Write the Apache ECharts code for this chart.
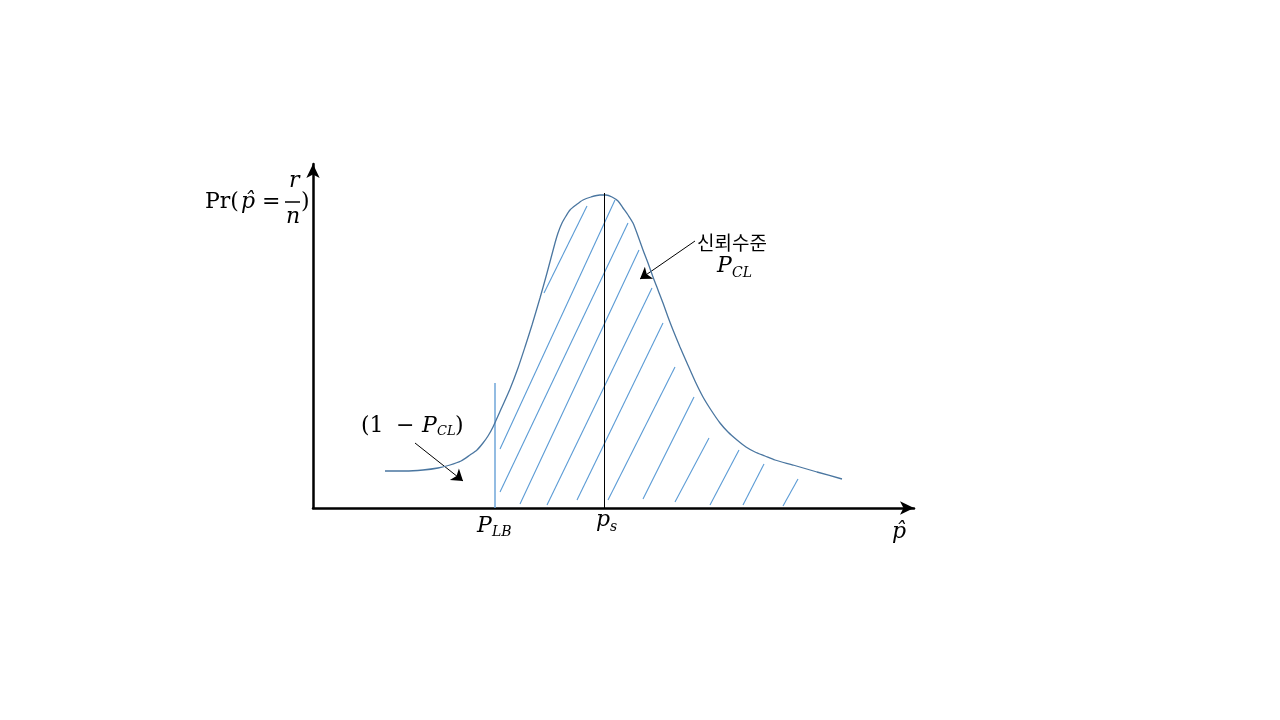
<!DOCTYPE html>
<html>
<head>
<meta charset="utf-8">
<script src="https://cdn.jsdelivr.net/npm/echarts@6/dist/echarts.min.js"></script>
<style>
html,body{margin:0;padding:0;background:#fff;}
#chart{width:1280px;height:720px;}
</style>
</head>
<body>
<div id="chart"></div>
<script>
// Density curve Pr(p̂ = r/n) (arbitrary units: x along p̂, y height)
const curveX = [72,92,110,125,137,148,157,164,170,175,180,189,197,205,212,219,227,234,242,245,249,253,257,263,270,278,287,293,299,305,310,315,320,325,330,335,340,345,350,355,360,367,374,382,390,398,407,415,424,433,442,452,462,480,504,529];
const curveY = [37,37,38,40,43,47,53,58,65,72,81,101,119,140,161,183,210,235,265,275,285,292,298,303,308,311,313,313,311,307,300,293,285,272,258,245,231,218,205,191,178,161,145,127,111,98,85,76,68,61,56,52,48,43,36,29];

// Hatch segments under the curve (start x, start y, end x, end y)
const hatchX0 = [231,187,187,207,234,264,295,330,362,397,430,470];
const hatchY0 = [215,59,16,4,3,8,8,9,6,3,3,2];
const hatchX1 = [274,302,315,326,339,350,362,381,396,426,451,485];
const hatchY1 = [302,308,285,258,220,185,141,111,70,58,44,29];

// Markers: lower bound P_LB and sample proportion p_s
const lowerBoundX = 182, lowerBoundTop = 125;
const sampleX = 291, sampleTop = 315;

// Annotation arrows [from, to]
const arrowTail = [[102,65],[382,267]];
const arrowHead = [[150,27],[327,229]];

const xMax = 601, yMax = 344;

const chart = echarts.init(document.getElementById('chart'));

const curveData = curveX.map((x,i)=>[x, curveY[i]]);
const hatchData = hatchX0.map((x,i)=>({coords:[[x,hatchY0[i]],[hatchX1[i],hatchY1[i]]]}));
const arrowData = arrowTail.map((t,i)=>({coords:[t, arrowHead[i]]}));

const serif = '"DejaVu Serif", "Liberation Serif", serif';
function txt(text, x, y, size, italic){
  return {
    type:'text', silent:true,
    style:{text:text, x:x, y:y, fill:'#000',
      font:(italic?'italic ':'')+size+'px '+serif,
      align:'left', verticalAlign:'middle'}
  };
}

chart.setOption({
  animation:false,
  backgroundColor:'#fff',
  grid:{left:313, top:164, width:601, height:344, containLabel:false},
  xAxis:{type:'value', min:0, max:xMax,
    axisLine:{show:true, lineStyle:{color:'#000', width:2.5}, symbol:['none','arrow'], symbolSize:[10,14]},
    axisTick:{show:false}, axisLabel:{show:false}, splitLine:{show:false}},
  yAxis:{type:'value', min:0, max:yMax,
    axisLine:{show:true, lineStyle:{color:'#000', width:2.5}, symbol:['none','arrow'], symbolSize:[10,14]},
    axisTick:{show:false}, axisLabel:{show:false}, splitLine:{show:false}},
  series:[
    {type:'lines', coordinateSystem:'cartesian2d', silent:true,
      lineStyle:{color:'#5b9bd5', width:1.1, opacity:1}, data:hatchData},
    {type:'lines', coordinateSystem:'cartesian2d', silent:true,
      lineStyle:{color:'#6fa6d8', width:1.5, opacity:1},
      data:[{coords:[[lowerBoundX,0],[lowerBoundX,lowerBoundTop]]}]},
    {type:'lines', coordinateSystem:'cartesian2d', silent:true, z:5,
      lineStyle:{color:'#000', width:1, opacity:1},
      data:[{coords:[[sampleX,0],[sampleX,sampleTop]]}]},
    {type:'line', data:curveData, smooth:0.25, showSymbol:false, silent:true,
      lineStyle:{color:'#4a76a0', width:1.3}},
    {type:'lines', coordinateSystem:'cartesian2d', silent:true,
      symbol:['none','arrow'], symbolSize:11,
      lineStyle:{color:'#000', width:1, opacity:1}, data:arrowData}
  ],
  graphic:[
    // y-axis title: Pr(p̂ = r/n)
    txt('Pr(', 205, 202, 22, false),
    txt('p\u0302', 241, 202, 22, true),
    txt('=', 262, 202, 22, false),
    txt('r', 289, 181, 22, true),
    {type:'line', silent:true, shape:{x1:285,y1:202,x2:300,y2:202}, style:{stroke:'#000', lineWidth:1.5}},
    txt('n', 286, 217, 22, true),
    txt(')', 301, 202, 22, false),
    // (1 − P_CL)
    txt('(1', 361, 426, 22, false),
    txt('\u2212', 396, 426, 22, false),
    txt('P', 422, 426, 22, true),
    txt('CL', 437, 432, 13, true),
    txt(')', 455, 426, 22, false),
    // 신뢰수준 P_CL
    {type:'text', silent:true, style:{text:'신뢰수준', x:697, y:243, fill:'#000',
      font:'19px "Noto Sans CJK KR", sans-serif', align:'left', verticalAlign:'middle'}},
    txt('P', 717, 266, 22, true),
    txt('CL', 732, 273, 14, true),
    // P_LB
    txt('P', 477, 526, 22, true),
    txt('LB', 492, 532, 14, true),
    // p_s
    txt('p', 596, 520, 22, true),
    txt('s', 610, 527, 14, true),
    // p̂ axis label
    txt('p\u0302', 892, 532, 22, true)
  ]
});
</script>
</body>
</html>
